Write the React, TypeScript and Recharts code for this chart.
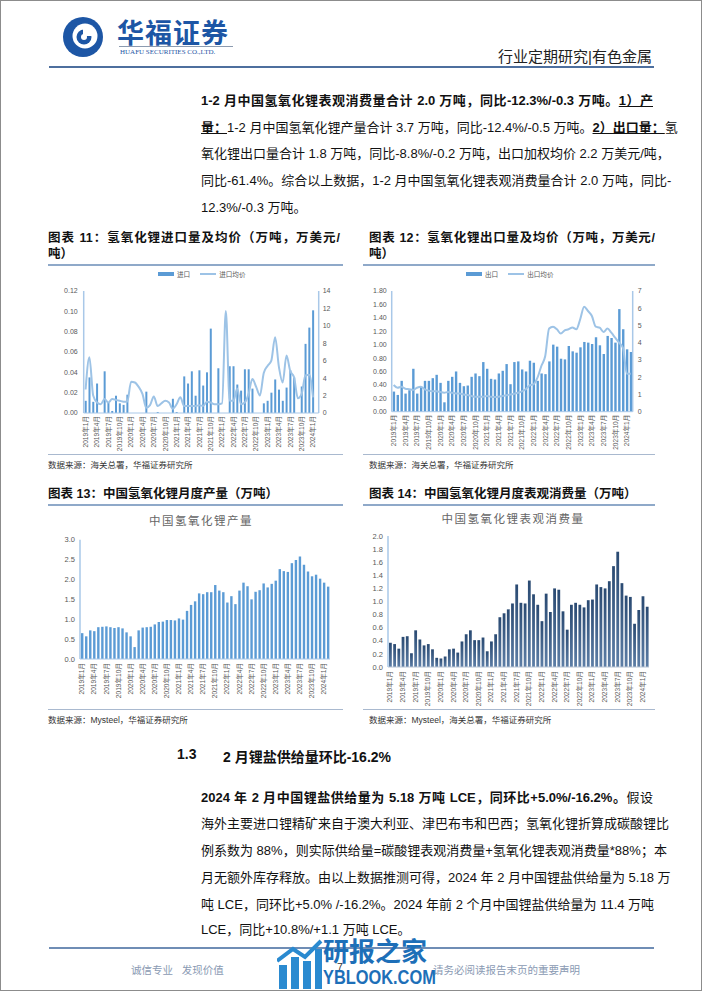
import type { ReactNode } from 'react';
import { Bar, BarChart, ComposedChart, Line, XAxis, YAxis } from 'recharts';

const FONT = "'Liberation Sans', 'Noto Sans CJK SC', sans-serif";
const AXIS_BLUE = '#a9c8e8';
const TICK_GREY = '#595959';
const BAR_BLUE = '#5b9bd5';
const LINE_BLUE = '#9dc3e6';

// 2019年1月 .. 2024年2月
const months: string[] = [];
for (let i = 0; i < 62; i++) months.push(`${2019 + Math.floor(i / 12)}年${(i % 12) + 1}月`);

// 图表11 进口量（万吨）/ 进口均价（万美元/吨）
const importVolume = [
  0.012, 0.035, 0.011, 0.029, 0, 0.041, 0.01, 0.002, 0.017, 0.0095, 0.008, 0.018,
  0, 0, 0, 0, 0.021, 0, 0, 0.001, 0, 0, 0, 0.014,
  0.001, 0, 0.036, 0.029, 0.041, 0.017, 0.042, 0.027, 0.04, 0.083, 0, 0.044,
  0, 0, 0.046, 0.046, 0.028, 0.022, 0.043, 0.043, 0.024, 0, 0, 0.0095,
  0.012, 0.02, 0.033, 0.023, 0.012, 0.025, 0.042, 0.035, 0, 0.026, 0.068, 0.084,
  0.101, 0,
];
const importPrice = [
  2.7, 6.4, 2.0, 1.2, 1.0, 1.6, 1.2, 1.6, 1.5, 1.4, 1.3, 1.3,
  3.6, 3.5, 3.0, 2.2, 0.6, 0.9, 1.9, 0.8, 1.1, 1.4, 1.2, 0.5,
  1.0, 1.8, 0.8, 0.8, 0.8, 0.8, 0.9, 0.8, 1.3, 1.2, 1.0, 1.0,
  1.1, 11.7, 1.4, 1.4, 2.8, 1.0, 1.2, 2.2, 3.9, 3.0, 2.0, 4.6,
  5.4, 6.0, 8.7, 5.3, 3.5, 6.6, 4.8, 4.1, 1.7, 2.2, 4.3, 4.4,
  1.8, null,
];

// 图表12 出口量（万吨）/ 出口均价（万美元/吨）
const exportVolume = [
  0.3, 0.25, 0.46, 0.27, 0.32, 0.64, 0.27, 0.37, 0.46, 0.46, 0.5, 0.55,
  0.43, 0.14, 0.46, 0.52, 0.6, 0.43, 0.38, 0.39, 0.52, 0.57, 0.53, 0.74,
  0.64, 0.49, 0.48, 0.57, 0.61, 0.71, 0.41, 0.74, 0.75, 0.63, 0.6, 0.76,
  0.73, 0.46, 0.57, 0.56, 0.75, 1.0, 0.97, 0.79, 0.78, 0.98, 0.9, 0.88,
  0.96, 1.04, 1.03, 1.01, 1.11, 0.99, 0.86, 1.13, 1.1, 1.03, 1.53, 1.23,
  0.93, 0.89,
];
const exportPrice = [
  1.55, 1.39, 1.45, 1.33, 1.3, 1.26, 1.39, 1.45, 1.3, 1.22, 1.18, 1.18,
  1.14, 1.1, 1.14, 1.1, 1.06, 1.06, 1.0, 0.97, 0.91, 0.87, 0.87, 0.87,
  0.91, 0.87, 0.85, 0.87, 0.91, 0.95, 1.0, 1.04, 1.1, 1.18, 1.3, 1.53,
  1.59, 1.97, 2.65, 3.23, 4.82, 4.93, 4.78, 4.53, 4.72, 4.78, 4.89, 4.78,
  5.36, 6.09, 5.84, 5.55, 4.93, 4.87, 4.62, 4.82, 4.58, 4.29, 4.0, 3.7,
  2.2, 2.2,
];

// 图表13 产量（万吨）
const production = [
  0.65, 0.57, 0.72, 0.7, 0.8, 0.81, 0.82, 0.8, 0.78, 0.8, 0.77, 0.67,
  0.57, 0.3, 0.72, 0.79, 0.8, 0.81, 0.87, 0.93, 0.94, 0.98, 0.98, 0.97,
  1.02, 0.99, 1.21, 1.36, 1.45, 1.65, 1.63, 1.68, 1.68, 1.86, 1.72, 1.68,
  1.42, 1.58, 1.38, 1.72, 1.92, 1.83, 1.5, 1.69, 1.73, 1.9, 1.8, 1.89,
  1.97, 2.26, 2.21, 2.19, 2.41, 2.49, 2.58, 2.37, 2.2, 2.08, 2.12, 2.02,
  1.92, 1.82,
];

// 图表14 表观消费量（万吨）
const consumption = [
  0.37, 0.35, 0.28, 0.46, 0.47, 0.21, 0.56, 0.42, 0.33, 0.35, 0.27, 0.14,
  0.13, 0.16, 0.27, 0.28, 0.22, 0.39, 0.5, 0.56, 0.41, 0.41, 0.45, 0.24,
  0.39, 0.5, 0.76, 0.82, 0.88, 0.97, 1.26, 0.98, 0.97, 1.32, 1.11, 0.95,
  0.7, 1.12, 0.84, 1.2, 1.18, 0.85, 0.57, 0.95, 0.98, 0.95, 0.91, 1.02,
  1.03, 1.26, 1.22, 1.2, 1.31, 1.54, 1.76, 1.28, 1.09, 1.07, 0.66, 0.87,
  1.08, 0.92,
];

const importTicks = [0, 0.02, 0.04, 0.06, 0.08, 0.1, 0.12];
const importPriceTicks = [0, 2, 4, 6, 8, 10, 12, 14];
const exportTicks = [0, 0.2, 0.4, 0.6, 0.8, 1.0, 1.2, 1.4, 1.6, 1.8];
const exportPriceTicks = [0, 1, 2, 3, 4, 5, 6, 7];
const productionTicks = [0, 0.5, 1.0, 1.5, 2.0, 2.5, 3.0];
const consumptionTicks = [0, 0.2, 0.4, 0.6, 0.8, 1.0, 1.2, 1.4, 1.6, 1.8, 2.0];

const importRows = months.map((month, i) => ({ month, vol: importVolume[i], price: importPrice[i] }));
const exportRows = months.map((month, i) => ({ month, vol: exportVolume[i], price: exportPrice[i] }));
const productionRows = months.map((month, i) => ({ month, value: production[i] }));
const consumptionRows = months.map((month, i) => ({ month, value: consumption[i] }));

const yTick = { fontSize: 7, fill: TICK_GREY, fontFamily: FONT };

function MonthTick({ x, y, payload }: any) {
  return (
    <text
      transform={`translate(${x},${y}) rotate(-90)`}
      textAnchor="end"
      dy="0.35em"
      fontSize={6.6}
      fill={TICK_GREY}
      fontFamily={FONT}
    >
      {payload.value}
    </text>
  );
}

function Abs({ left, top, children, style }: { left: number; top: number; children: ReactNode; style?: any }) {
  return <div style={{ position: 'absolute', left, top, ...style }}>{children}</div>;
}

function TextLine({ top, children, justify = true }: { top: number; children: ReactNode; justify?: boolean }) {
  return (
    <div
      style={{
        position: 'absolute',
        left: 200,
        top,
        width: 452,
        fontSize: 13,
        lineHeight: '16px',
        whiteSpace: 'nowrap',
        textAlign: justify ? 'justify' : 'left',
        textAlignLast: justify ? 'justify' : 'left',
        color: '#111',
      }}
    >
      {children}
    </div>
  );
}

function ChartLegend({ left, bar, line }: { left: number; bar: string; line: string }) {
  return (
    <div style={{ position: 'absolute', left, top: 268, display: 'flex', alignItems: 'center', fontSize: 6.6, color: TICK_GREY }}>
      <span style={{ width: 16, height: 4, background: BAR_BLUE, marginRight: 3 }} />
      <span style={{ marginRight: 10 }}>{bar}</span>
      <span style={{ width: 16, height: 1.5, background: LINE_BLUE, marginRight: 3 }} />
      <span>{line}</span>
    </div>
  );
}

function ImportChart() {
  return (
    <Abs left={44} top={268}>
      <ComposedChart width={305} height={184} data={importRows} margin={{ top: 22, right: 6.3, bottom: 0, left: 0 }}>
        <XAxis dataKey="month" interval={2} tick={<MonthTick />} tickLine={false} tickSize={2} tickMargin={1} height={40} axisLine={{ stroke: AXIS_BLUE }} />
        <YAxis yAxisId="left" width={38.7} domain={[0, 0.12]} ticks={importTicks} interval={0} tickFormatter={(v) => v.toFixed(2)} tick={yTick} tickLine={false} tickSize={4} tickMargin={2} axisLine={{ stroke: AXIS_BLUE, strokeWidth: 1.5 }} />
        <YAxis yAxisId="right" orientation="right" width={25} domain={[0, 14]} ticks={importPriceTicks} interval={0} tick={yTick} tickLine={false} tickSize={2} tickMargin={2} axisLine={{ stroke: AXIS_BLUE, strokeWidth: 1.5 }} />
        <Bar yAxisId="left" dataKey="vol" fill={BAR_BLUE} barSize={2} isAnimationActive={false} />
        <Line yAxisId="right" dataKey="price" type="monotone" stroke={LINE_BLUE} strokeWidth={2} dot={false} isAnimationActive={false} />
      </ComposedChart>
    </Abs>
  );
}

function ExportChart() {
  return (
    <Abs left={355} top={268}>
      <ComposedChart width={300} height={182.7} data={exportRows} margin={{ top: 22, right: 0, bottom: 0, left: 0 }}>
        <XAxis dataKey="month" interval={2} tick={<MonthTick />} tickLine={false} tickSize={2} tickMargin={1} height={40} axisLine={{ stroke: AXIS_BLUE }} />
        <YAxis yAxisId="left" width={35.7} domain={[0, 1.8]} ticks={exportTicks} interval={0} tickFormatter={(v) => v.toFixed(2)} tick={yTick} tickLine={false} tickSize={3} tickMargin={2} axisLine={{ stroke: AXIS_BLUE, strokeWidth: 1.5 }} />
        <YAxis yAxisId="right" orientation="right" width={23.3} domain={[0, 7]} ticks={exportPriceTicks} interval={0} tick={yTick} tickLine={false} tickSize={2} tickMargin={3} axisLine={{ stroke: AXIS_BLUE, strokeWidth: 1.5 }} />
        <Bar yAxisId="left" dataKey="vol" fill={BAR_BLUE} barSize={2.4} isAnimationActive={false} />
        <Line yAxisId="right" dataKey="price" type="monotone" stroke={LINE_BLUE} strokeWidth={2} dot={false} isAnimationActive={false} />
      </ComposedChart>
    </Abs>
  );
}

function ProductionChart() {
  return (
    <Abs left={44} top={528}>
      <BarChart width={291} height={172} data={productionRows} margin={{ top: 10.7, right: 6, bottom: 0, left: 0 }}>
        <XAxis dataKey="month" interval={2} tick={<MonthTick />} tickLine={false} tickSize={2} tickMargin={2} height={42} axisLine={{ stroke: AXIS_BLUE }} />
        <YAxis width={35} domain={[0, 3]} ticks={productionTicks} interval={0} tickFormatter={(v) => v.toFixed(1)} tick={{ ...yTick, fontSize: 7.5 }} tickLine={false} tickSize={3} tickMargin={2} axisLine={{ stroke: AXIS_BLUE, strokeWidth: 1.5 }} />
        <Bar dataKey="value" fill={BAR_BLUE} barSize={2.4} isAnimationActive={false} />
      </BarChart>
    </Abs>
  );
}

function ConsumptionChart() {
  return (
    <Abs left={355} top={525}>
      <BarChart width={296} height={181} data={consumptionRows} margin={{ top: 10, right: 3, bottom: 0, left: 0 }}>
        <defs>
          <linearGradient id="consFill" x1="0" y1="0" x2="0" y2="1">
            <stop offset="0" stopColor="#2a4a72" />
            <stop offset="1" stopColor="#5d7ea6" />
          </linearGradient>
        </defs>
        <XAxis dataKey="month" interval={2} tick={<MonthTick />} tickLine={false} tickSize={2} tickMargin={2} height={40} axisLine={{ stroke: '#b8c4d4' }} />
        <YAxis width={32} domain={[0, 2]} ticks={consumptionTicks} interval={0} tickFormatter={(v) => v.toFixed(1)} tick={{ ...yTick, fontSize: 7.5 }} tickLine={false} tickSize={3} tickMargin={2} axisLine={{ stroke: AXIS_BLUE, strokeWidth: 1.5 }} />
        <Bar dataKey="value" fill="url(#consFill)" barSize={2.8} isAnimationActive={false} />
      </BarChart>
    </Abs>
  );
}

function Rule({ left, top, width, color = '#8fa9c9', height = 1.5 }: { left: number; top: number; width: number; color?: string; height?: number }) {
  return <div style={{ position: 'absolute', left, top, width, height, background: color }} />;
}

const titleStyle = { fontSize: 12.5, fontWeight: 700, color: '#111', lineHeight: '15px', whiteSpace: 'nowrap' as const };
const sourceStyle = { fontSize: 8.5, color: '#333', whiteSpace: 'nowrap' as const };
const footStyle = { fontSize: 10.5, color: '#8a9ab3', whiteSpace: 'nowrap' as const };

export default function App() {
  return (
    <div
      style={{
        position: 'absolute',
        left: 0,
        top: 0,
        width: 702,
        height: 991,
        background: '#fff',
        overflow: 'hidden',
        fontFamily: FONT,
        border: '1px solid #8c8c8c',
        boxSizing: 'border-box',
      }}
    >
      {/* header */}
      <Abs left={60} top={14}>
        <svg width={44} height={44} viewBox="0 0 44 44">
          <circle cx={22} cy={22} r={20} fill="#1d56a5" />
          <circle cx={24} cy={21} r={12.5} fill="#fff" />
          <circle cx={23} cy={22} r={7.5} fill="#1d56a5" />
          <rect x={22} y={14} width={12} height={7} fill="#fff" />
          <circle cx={23} cy={22} r={3} fill="#fff" />
        </svg>
      </Abs>
      <Abs left={116} top={11} style={{ fontSize: 27, fontWeight: 700, color: '#1d56a5', letterSpacing: 1, whiteSpace: 'nowrap' }}>
        华福证券
      </Abs>
      <Rule left={118} top={45} width={114} color="#8c9bb0" height={1} />
      <Abs left={119} top={47} style={{ fontSize: 7, color: '#1d56a5', fontFamily: "'Liberation Serif', serif", whiteSpace: 'nowrap' }}>
        HUAFU SECURITIES CO.,LTD.
      </Abs>
      <Abs left={497} top={44} style={{ fontSize: 15, color: '#222', whiteSpace: 'nowrap' }}>
        行业定期研究|有色金属
      </Abs>
      <Rule left={48} top={65} width={605} color="#4d6f9e" height={2} />

      {/* paragraph 1 */}
      <TextLine top={92}>
        <b>1-2 月中国氢氧化锂表观消费量合计 2.0 万吨，同比-12.3%/-0.3 万吨。</b>
        <b><u>1）产</u></b>
      </TextLine>
      <TextLine top={119}>
        <b><u>量：</u></b>1-2 月中国氢氧化锂产量合计 3.7 万吨，同比-12.4%/-0.5 万吨。<b><u>2）出口量：</u></b>氢
      </TextLine>
      <TextLine top={145}>氧化锂出口量合计 1.8 万吨，同比-8.8%/-0.2 万吨，出口加权均价 2.2 万美元/吨，</TextLine>
      <TextLine top={172}>同比-61.4%。综合以上数据，1-2 月中国氢氧化锂表观消费量合计 2.0 万吨，同比-</TextLine>
      <TextLine top={199} justify={false}>12.3%/-0.3 万吨。</TextLine>

      {/* chart 11 / 12 titles */}
      <Abs left={47} top={230} style={{ ...titleStyle, width: 292, textAlign: 'justify', textAlignLast: 'justify' }}>
        图表 11：氢氧化锂进口量及均价（万吨，万美元/
      </Abs>
      <Abs left={47} top={246} style={titleStyle}>吨）</Abs>
      <Abs left={368} top={230} style={{ ...titleStyle, width: 286, textAlign: 'justify', textAlignLast: 'justify' }}>
        图表 12：氢氧化锂出口量及均价（万吨，万美元/
      </Abs>
      <Abs left={368} top={246} style={titleStyle}>吨）</Abs>
      <Rule left={47} top={263} width={295} />
      <Rule left={362} top={263} width={292} />

      <ChartLegend left={157} bar="进口" line="进口均价" />
      <ChartLegend left={465} bar="出口" line="出口均价" />
      <ImportChart />
      <ExportChart />

      <Rule left={47} top={453} width={295} color="#a9b9cf" height={1} />
      <Rule left={362} top={453} width={292} color="#a9b9cf" height={1} />
      <Abs left={47} top={457} style={sourceStyle}>数据来源：海关总署，华福证券研究所</Abs>
      <Abs left={368} top={457} style={sourceStyle}>数据来源：海关总署，华福证券研究所</Abs>

      {/* chart 13 / 14 */}
      <Abs left={47} top={486} style={titleStyle}>图表 13：中国氢氧化锂月度产量（万吨）</Abs>
      <Abs left={368} top={486} style={titleStyle}>图表 14：中国氢氧化锂月度表观消费量（万吨）</Abs>
      <Rule left={47} top={503} width={295} />
      <Rule left={362} top={503} width={292} />
      <Abs left={100} top={511} style={{ width: 200, textAlign: 'center', fontSize: 11.5, color: '#666', letterSpacing: 1.5 }}>
        中国氢氧化锂产量
      </Abs>
      <Abs left={412} top={509} style={{ width: 200, textAlign: 'center', fontSize: 11.5, color: '#666', letterSpacing: 1.5 }}>
        中国氢氧化锂表观消费量
      </Abs>
      <ProductionChart />
      <ConsumptionChart />
      <Rule left={47} top={708} width={295} color="#a9b9cf" height={1} />
      <Rule left={362} top={708} width={292} color="#a9b9cf" height={1} />
      <Abs left={47} top={712} style={sourceStyle}>数据来源：Mysteel，华福证券研究所</Abs>
      <Abs left={368} top={712} style={sourceStyle}>数据来源：Mysteel，海关总署，华福证券研究所</Abs>

      {/* section 1.3 */}
      <Abs left={176} top={745} style={{ fontSize: 14, fontWeight: 700, color: '#111' }}>1.3</Abs>
      <Abs left={222} top={745} style={{ fontSize: 14, fontWeight: 700, color: '#111', whiteSpace: 'nowrap' }}>
        2 月锂盐供给量环比-16.2%
      </Abs>

      {/* paragraph 2 */}
      <TextLine top={789}>
        <b>2024 年 2 月中国锂盐供给量为 5.18 万吨 LCE，同环比+5.0%/-16.2%。</b>假设
      </TextLine>
      <TextLine top={815}>海外主要进口锂精矿来自于澳大利亚、津巴布韦和巴西；氢氧化锂折算成碳酸锂比</TextLine>
      <TextLine top={842}>例系数为 88%，则实际供给量=碳酸锂表观消费量+氢氧化锂表观消费量*88%；本</TextLine>
      <TextLine top={869}>月无额外库存释放。由以上数据推测可得，2024 年 2 月中国锂盐供给量为 5.18 万</TextLine>
      <TextLine top={896}>吨 LCE，同环比+5.0% /-16.2%。2024 年前 2 个月中国锂盐供给量为 11.4 万吨</TextLine>
      <TextLine top={921} justify={false}>LCE，同比+10.8%/+1.1 万吨 LCE。</TextLine>

      {/* footer */}
      <Rule left={48} top={946} width={605} color="#6f8db5" height={2} />
      <Abs left={130} top={961} style={footStyle}>诚信专业&nbsp;&nbsp;&nbsp;发现价值</Abs>
      <Abs left={336} top={960} style={{ ...footStyle, color: '#333' }}>7</Abs>
      <Abs left={432} top={961} style={footStyle}>请务必阅读报告末页的重要声明</Abs>

      {/* watermark */}
      <Abs left={276} top={938}>
        <svg width={46} height={50} viewBox="0 0 46 50">
          <rect x={2} y={26} width={8} height={24} fill="#2a8ad0" />
          <rect x={14} y={18} width={8} height={32} fill="#2a8ad0" />
          <rect x={26} y={22} width={8} height={28} fill="#2a8ad0" />
          <rect x={38} y={10} width={7} height={40} fill="#2a8ad0" />
          <path d="M0 22 L16 10 L28 18 L44 2" stroke="#2a8ad0" strokeWidth={4} fill="none" />
        </svg>
      </Abs>
      <Abs left={322} top={937} style={{ fontSize: 26, lineHeight: '28px', fontWeight: 700, color: '#1d6fb8', whiteSpace: 'nowrap' }}>
        研报之家
      </Abs>
      <Abs left={322} top={964} style={{ fontSize: 21, lineHeight: '24px', fontWeight: 700, color: '#1d6fb8', whiteSpace: 'nowrap', transform: 'scaleX(0.78)', transformOrigin: 'left top' }}>
        YBLOOK.COM
      </Abs>
    </div>
  );
}
